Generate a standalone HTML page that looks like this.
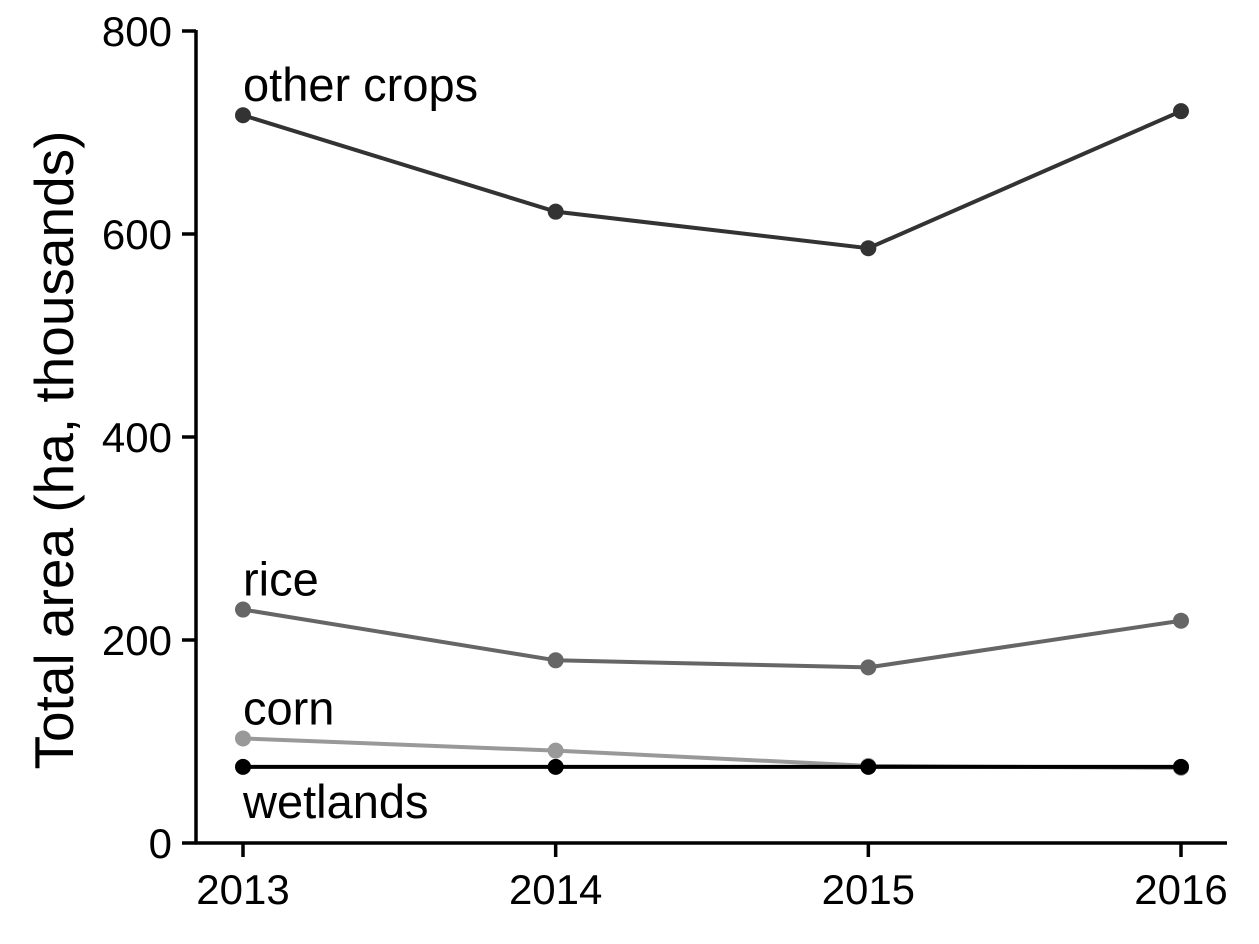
<!DOCTYPE html>
<html><head><meta charset="utf-8"><style>
body{margin:0;background:#fff}
svg{display:block;font-family:"Liberation Sans",sans-serif}
</style></head><body>
<svg id="chart" width="1259" height="944">
<g id="axes"></g><g id="series"></g>
<text transform="translate(73,450) rotate(-90)" text-anchor="middle" font-size="55" fill="#000">Total area (ha, thousands)</text>
</svg>
<script>
const years = [2013, 2014, 2015, 2016];
const otherCrops = [717, 622, 586, 721];
const rice = [230, 180, 173, 219];
const corn = [103, 91, 76, 74];
const wetlands = [75, 75, 75, 75];
const yTicks = [0, 200, 400, 600, 800];
const seriesNames = ["other crops", "rice", "corn", "wetlands"];

const ns = "http://www.w3.org/2000/svg";
const X = v => 243 + (v - 2013) * (1181 - 243) / 3;
const Y = v => 843 - v * (843 - 31) / 800;
function mk(tag, attrs, parent) {
  const e = document.createElementNS(ns, tag);
  for (const k in attrs) e.setAttribute(k, attrs[k]);
  parent.appendChild(e); return e;
}
const axes = document.getElementById('axes');
const ser = document.getElementById('series');
let e = mk('line', {x1:196, y1:30, x2:196, y2:844, stroke:'#000', 'stroke-width':3.5}, axes);


e = mk('line', {x1:195, y1:843, x2:1227, y2:843, stroke:'#000', 'stroke-width':3.5}, axes);


yTicks.forEach(t => {
  const tk = mk('line', {x1:182, y1:Y(t), x2:196, y2:Y(t), stroke:'#000', 'stroke-width':3.5}, axes);
  
  
  const lb = mk('text', {x:172, y:Y(t)+15, 'text-anchor':'end', 'font-size':42}, axes);
  lb.textContent = t;
  
  
});
years.forEach(yv => {
  const tk = mk('line', {x1:X(yv), y1:843, x2:X(yv), y2:857, stroke:'#000', 'stroke-width':3.5}, axes);
  
  
  const lb = mk('text', {x:X(yv), y:904, 'text-anchor':'middle', 'font-size':42}, axes);
  lb.textContent = yv;
  
  
});
const all = [otherCrops, rice, corn, wetlands];
const colors = ['#333333', '#666666', '#999999', '#000000'];
const labelDy = [-14, -14, -14, 51];
all.forEach((vals, i) => {
  const pts = vals.map((v, j) => X(years[j]) + ',' + Y(v)).join(' ');
  const pl = mk('polyline', {points:pts, fill:'none', stroke:colors[i], 'stroke-width':4}, ser);
  
  
  vals.forEach((v, j) => {
    const c = mk('circle', {cx:X(years[j]), cy:Y(v), r:8, fill:colors[i]}, ser);
    
    
  });
  const t = mk('text', {x:243, y:Y(vals[0]) + labelDy[i], 'font-size':47, fill:'#000'}, ser);
  t.textContent = seriesNames[i];
  
  
});
</script>
</body></html>
